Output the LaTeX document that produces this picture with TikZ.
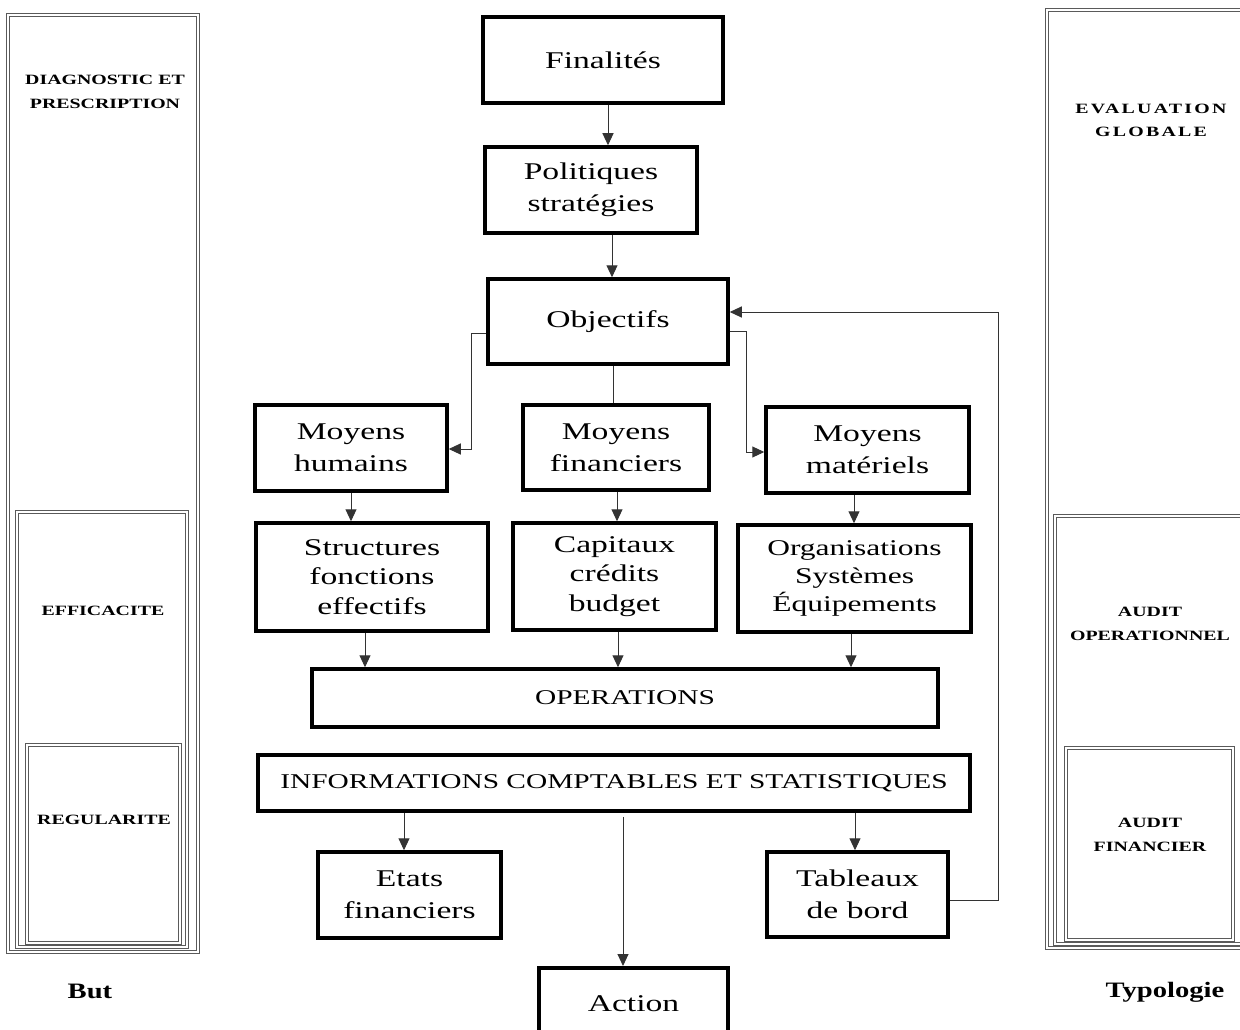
\documentclass[tikz,border=0pt]{standalone}
\usepackage{fontspec}
\setmainfont{Liberation Serif}[FakeStretch=1.4]
\newfontfamily\sidefont{Liberation Serif}[FakeStretch=1.4]
\newfontfamily\widesidefont{Liberation Serif}[FakeStretch=1.4, LetterSpace=16]
\newfontfamily\capfont{Liberation Serif}[FakeStretch=1.3]
\usetikzlibrary{arrows.meta}
\definecolor{linegray}{HTML}{333333}
\definecolor{framegray}{HTML}{5A5A5A}
\tikzset{
  mbox/.style={draw=black, line width=3.5pt, fill=white, align=center, inner sep=0pt,
    font=\fontsize{24}{32}\selectfont},
  arr/.style={draw=linegray, line width=1pt, -{Triangle[length=12pt,width=11pt]}},
  link/.style={draw=linegray, line width=1pt},
  frame/.style={draw=framegray, double=white, line width=0.8pt, double distance=1.6pt},
  sidelabel/.style={align=center, inner sep=0pt, font=\sidefont\bfseries\fontsize{14.2}{24.5}\selectfont},
  caplabel/.style={inner sep=0pt, font=\capfont\bfseries\fontsize{22}{26}\selectfont}
}
\begin{document}
\begin{tikzpicture}[x=1pt, y=-1pt]
\clip (0,0) rectangle (1240,1030);
\fill[white] (0,0) rectangle (1240,1030);

% left column: purpose
\draw[frame] (8,15) rectangle (198,952);
\draw[frame] (17,512) rectangle (187,947);
\draw[frame] (27,745) rectangle (180,943);
\node[sidelabel] (diag) at (105,92) {DIAGNOSTIC ET\\PRESCRIPTION};
\node[sidelabel] (effi) at (103,611) {EFFICACITE};
\node[sidelabel] (regu) at (104,820) {REGULARITE};
\node[caplabel] (but) at (90,991) {But};

% right column: typology
\draw[frame] (1047,10) rectangle (1245,948);
\draw[frame] (1055,516) rectangle (1245,944);
\draw[frame] (1066,748) rectangle (1233,940);
\node[sidelabel, font=\widesidefont\bfseries\fontsize{14.2}{23}\selectfont] (eval) at (1151,120) {EVALUATION\\GLOBALE};
\node[sidelabel] (aop) at (1150,624) {AUDIT\\OPERATIONNEL};
\node[sidelabel] (afi) at (1150,835) {AUDIT\\FINANCIER};
\node[caplabel] (typo) at (1165,992) {Typologie};

% central chain
\node[mbox, minimum width=240, minimum height=86] (fin) at (603,60) {Finalités};
\node[mbox, minimum width=212, minimum height=86] (pol) at (591,190) {\raisebox{-3pt}{\parbox{200pt}{\centering Politiques\\stratégies}}};
\node[mbox, minimum width=240, minimum height=85] (obj) at (608,321.5) {Objectifs};
\node[mbox, minimum width=192, minimum height=86] (mh) at (351,448) {Moyens\\humains};
\node[mbox, minimum width=186, minimum height=85] (mf) at (616,447.5) {Moyens\\financiers};
\node[mbox, minimum width=203, minimum height=86] (mm) at (867.5,450) {Moyens\\matériels};
\node[mbox, minimum width=232, minimum height=108, font=\fontsize{24}{29.5}\selectfont] (sfe) at (372,577) {Structures\\fonctions\\effectifs};
\node[mbox, minimum width=203, minimum height=107, font=\fontsize{24}{29.5}\selectfont] (ccb) at (614.5,576.5) {\raisebox{-3pt}{\parbox{190pt}{\centering Capitaux\\crédits\\budget}}};
\node[mbox, minimum width=233, minimum height=107, font=\fontsize{22.5}{28}\selectfont] (ose) at (854.5,578.5) {Organisations\\Systèmes\\Équipements};
\node[mbox, minimum width=626, minimum height=58, font=\fontsize{21}{26}\selectfont] (ops) at (625,698) {OPERATIONS};
\node[mbox, minimum width=712, minimum height=56, font=\fontsize{21}{26}\selectfont] (inf) at (614,783) {INFORMATIONS COMPTABLES ET STATISTIQUES};
\node[mbox, minimum width=183, minimum height=86] (etf) at (409.5,895) {Etats\\financiers};
\node[mbox, minimum width=181, minimum height=85] (tdb) at (857.5,894.5) {Tableaux\\de bord};
\node[mbox, minimum width=189, minimum height=72, anchor=north] (act) at (633.5,966) {Action};

% connectors
\draw[arr] (608,0 |- fin.south) -- (608,0 |- pol.north);
\draw[arr] (612,0 |- pol.south) -- (612,0 |- obj.north);
\draw[link] (613,0 |- obj.south) -- (613,0 |- mf.north);
\draw[arr] (obj.west |- 0,333) -- (471,333) -- (471,449) -- (mh.east |- 0,449);
\draw[arr] (obj.east |- 0,331) -- (746,331) -- (746,452) -- (mm.west |- 0,452);
\draw[arr] (351,0 |- mh.south) -- (351,0 |- sfe.north);
\draw[arr] (617,0 |- mf.south) -- (617,0 |- ccb.north);
\draw[arr] (854,0 |- mm.south) -- (854,0 |- ose.north);
\draw[arr] (365,0 |- sfe.south) -- (365,0 |- ops.north);
\draw[arr] (618,0 |- ccb.south) -- (618,0 |- ops.north);
\draw[arr] (851,0 |- ose.south) -- (851,0 |- ops.north);
\draw[arr] (404,0 |- inf.south) -- (404,0 |- etf.north);
\draw[arr] (855,0 |- inf.south) -- (855,0 |- tdb.north);
\draw[arr, shorten <=4pt] (623,0 |- inf.south) -- (623,0 |- act.north);
\draw[arr] (tdb.east |- 0,900) -- (998,900) -- (998,312) -- (obj.east |- 0,312);
\end{tikzpicture}
\end{document}
